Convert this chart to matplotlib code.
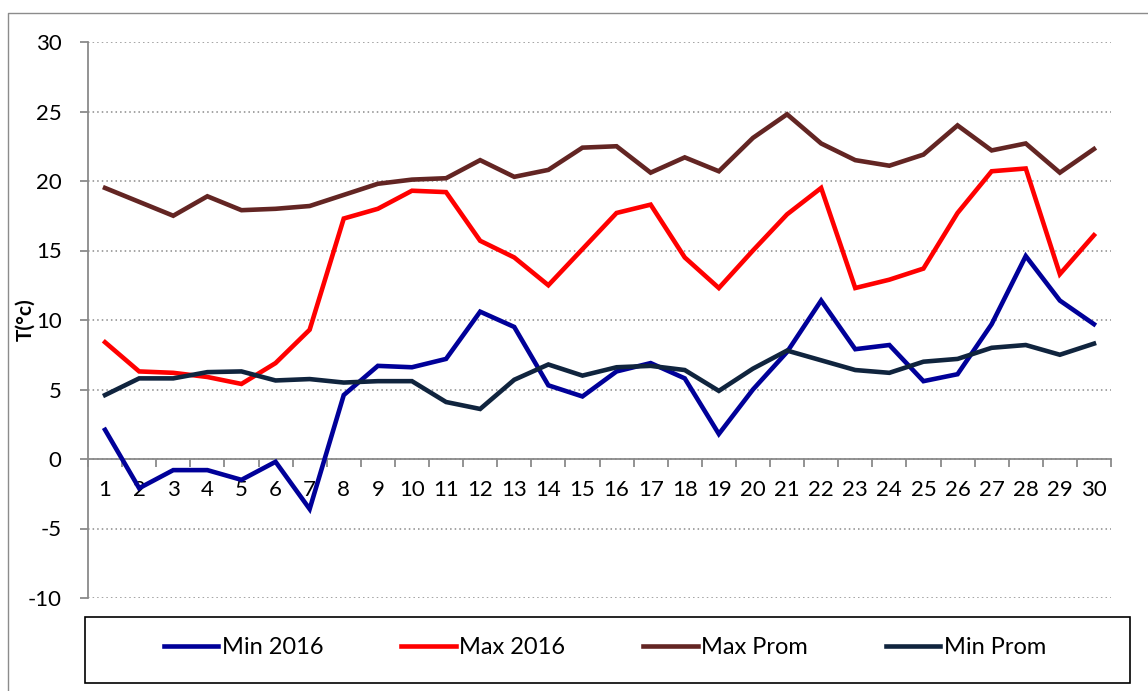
import numpy as np
import matplotlib
matplotlib.use('Agg')
from matplotlib import pyplot as plt
from matplotlib.patches import Rectangle
from matplotlib.lines import Line2D

plt.rcParams['font.family'] = ['Lato', 'DejaVu Sans']
plt.rcParams['axes.unicode_minus'] = False

# data
days = list(range(1, 31))
min_2016 = [2.1, -2.1, -0.8, -0.8, -1.5, -0.2, -3.6, 4.6, 6.7, 6.6,
            7.2, 10.6, 9.5, 5.3, 4.5, 6.3, 6.9, 5.8, 1.8, 5.0,
            7.7, 11.4, 7.9, 8.2, 5.6, 6.1, 9.7, 14.6, 11.4, 9.7]
max_2016 = [8.4, 6.3, 6.2, 5.9, 5.4, 6.9, 9.3, 17.3, 18.0, 19.3,
            19.2, 15.7, 14.5, 12.5, 15.1, 17.7, 18.3, 14.5, 12.3, 15.0,
            17.6, 19.5, 12.3, 12.9, 13.7, 17.7, 20.7, 20.9, 13.3, 16.1]
max_prom = [19.5, 18.5, 17.5, 18.9, 17.9, 18.0, 18.2, 19.0, 19.8, 20.1,
            20.2, 21.5, 20.3, 20.8, 22.4, 22.5, 20.6, 21.7, 20.7, 23.1,
            24.8, 22.7, 21.5, 21.1, 21.9, 24.0, 22.2, 22.7, 20.6, 22.3]
min_prom = [4.6, 5.8, 5.8, 6.25, 6.3, 5.65, 5.75, 5.5, 5.6, 5.6,
            4.1, 3.6, 5.7, 6.8, 6.0, 6.6, 6.7, 6.4, 4.9, 6.5,
            7.8, 7.1, 6.4, 6.2, 7.0, 7.2, 8.0, 8.2, 7.5, 8.3]

series = [('Min 2016', min_2016, '#000099'),
          ('Max 2016', max_2016, '#ff0000'),
          ('Max Prom', max_prom, '#632523'),
          ('Min Prom', min_prom, '#10243e')]

W, H = 1148, 691
fig = plt.figure(figsize=(W / 100, H / 100), dpi=100)
ax = fig.add_axes([88 / W, 1 - 598 / H, (1111 - 88) / W, (598 - 42) / H])

handles = []
for name, vals, col in series:
    h, = ax.plot(days, vals, color=col, lw=3.3, label=name, zorder=3,
                 solid_joinstyle='miter')
    handles.append(h)

ax.set_xlim(0.5, 30.5)
ax.set_ylim(-10, 30)
ax.set_yticks(range(-10, 31, 5))
ax.yaxis.grid(True, linestyle=(0, (1, 2)), color='#8a8a8a', lw=1.1)
ax.set_axisbelow(True)

for s in ['top', 'right']:
    ax.spines[s].set_visible(False)
ax.spines['bottom'].set_position(('data', 0))
ax.spines['bottom'].set_color('#8a8a8a')
ax.spines['left'].set_color('#8a8a8a')
ax.spines['bottom'].set_linewidth(1.3)
ax.spines['left'].set_linewidth(1.3)

ax.set_xticks(days)
ax.set_xticklabels([str(d) for d in days])
ax.set_xticks(np.arange(0.5, 31, 1), minor=True)
ax.tick_params(axis='x', which='major', length=0, pad=15, labelsize=16)
ax.tick_params(axis='x', which='minor', length=6, width=1.3, color='#8a8a8a', direction='out')
ax.tick_params(axis='y', length=6, width=1.3, color='#8a8a8a', pad=13, labelsize=16)

fig.text(25 / W, 1 - 320 / H, 'T(°c)', rotation=90, ha='center', va='center',
         fontsize=15, fontweight='bold')

# legend box
fig.patches.append(Rectangle((85 / W, 1 - 683 / H), (1130 - 85) / W, (683 - 617) / H,
                             transform=fig.transFigure, fill=False,
                             edgecolor='black', lw=1.2))
fig.legend(handles, [s[0] for s in series], loc='center',
           bbox_to_anchor=(605 / W, 1 - 648 / H), ncol=4, frameon=False,
           handlelength=2.3, handletextpad=0.15, columnspacing=3.3, fontsize=17)

# outer chart frame
fig.lines.append(Line2D([8 / W, 8 / W, 1], [0, 1 - 13 / H, 1 - 13 / H],
                        transform=fig.transFigure, color='#8c8c8c', lw=1))

fig.savefig('out.png', dpi=100)
